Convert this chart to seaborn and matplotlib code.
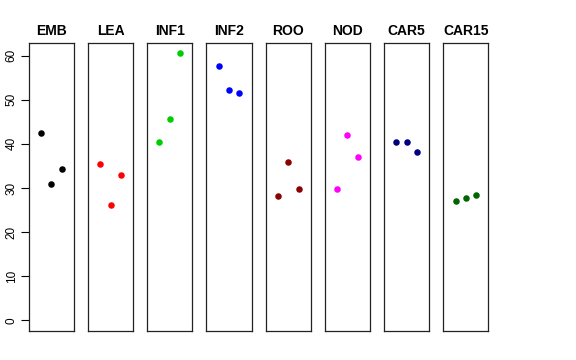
import pandas as pd
import matplotlib
matplotlib.use("Agg")
import matplotlib.pyplot as plt
import seaborn as sns

# Data
tissues = ["EMB", "LEA", "INF1", "INF2", "ROO", "NOD", "CAR5", "CAR15"]
colors = ["black", "red", "#00CD00", "blue", "#8B0000", "magenta", "#000080", "#006400"]
replicate = [1, 2, 3]
emb = [42.5, 30.9, 34.4]
lea = [35.5, 26.2, 33.0]
inf1 = [40.4, 45.7, 60.5]
inf2 = [57.6, 52.1, 51.6]
roo = [28.1, 35.8, 29.8]
nod = [29.7, 42.0, 37.1]
car5 = [40.4, 40.4, 38.1]
car15 = [27.1, 27.8, 28.4]
values = [emb, lea, inf1, inf2, roo, nod, car5, car15]

rows = []
for t, vals in zip(tissues, values):
    for r, v in zip(replicate, vals):
        rows.append({"tissue": t, "rep": r, "value": v})
df = pd.DataFrame(rows)

sns.set_style("white")
plt.rcParams["font.family"] = ["Liberation Sans", "DejaVu Sans"]
plt.rcParams["text.color"] = "black"
plt.rcParams["ytick.color"] = "black"
plt.rcParams["axes.labelcolor"] = "black"

fig, axes = plt.subplots(1, 8, figsize=(5.76, 3.6), dpi=100, sharey=True)
fig.subplots_adjust(left=0.05, right=0.848, top=0.881, bottom=0.081, wspace=0.315)

for i, (ax, t, c) in enumerate(zip(axes, tissues, colors)):
    sub = df[df["tissue"] == t]
    sns.scatterplot(data=sub, x="rep", y="value", color=c, s=22, linewidth=0, ax=ax)
    ax.set_xlim(-0.16, 4.16)
    ax.set_ylim(-2.4, 62.9)
    ax.set_title(t, fontsize=10, fontweight="bold", pad=6, color="black")
    ax.set_xlabel("")
    ax.set_ylabel("")
    ax.set_xticks([])
    for sp in ax.spines.values():
        sp.set_visible(True)
        sp.set_color("#222222")
        sp.set_linewidth(0.9)
    if i == 0:
        ax.set_yticks([0, 10, 20, 30, 40, 50, 60])
        ax.tick_params(axis="y", left=True, length=6, width=0.8, labelsize=8.5,
                       labelrotation=90, pad=2, colors="black")
        for lab in ax.get_yticklabels():
            lab.set_verticalalignment("center")
    else:
        ax.tick_params(axis="y", left=False, labelleft=False)

fig.savefig("out.png", dpi=100)
